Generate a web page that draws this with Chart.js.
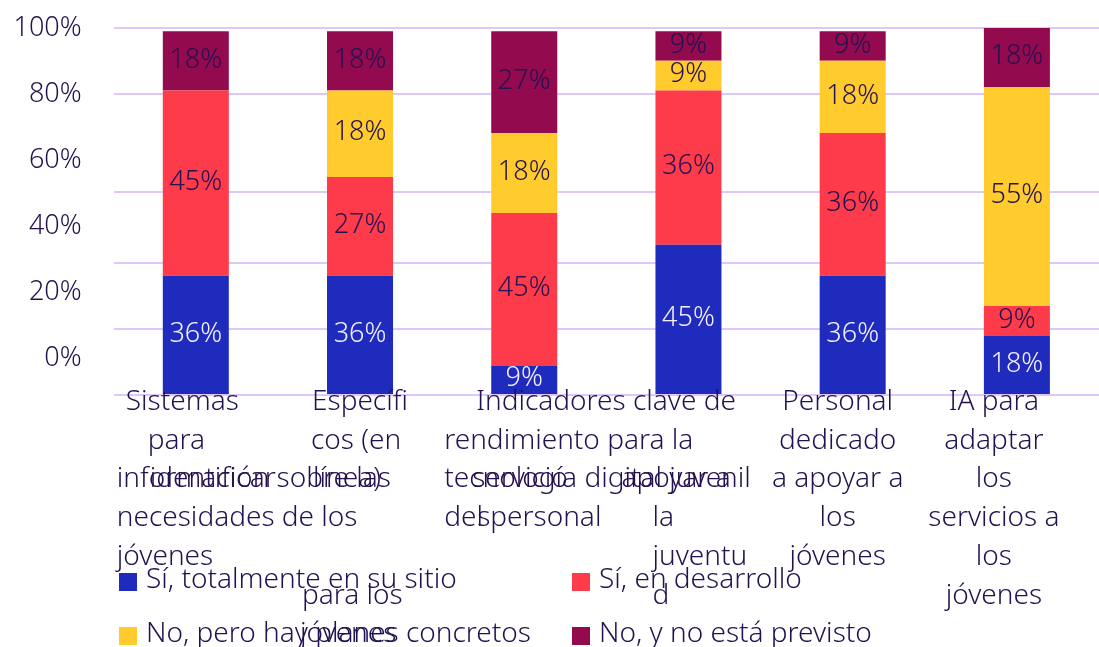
<!DOCTYPE html>
<html>
<head>
<meta charset="utf-8">
<title>Estado de las herramientas digitales</title>
<script src="https://cdn.jsdelivr.net/npm/chart.js@4.4.1/dist/chart.umd.min.js"></script>
<style>
    html, body { margin: 0; padding: 0; background: #ffffff; }
    #wrap { position: relative; width: 1099px; height: 647px; overflow: hidden; }
    #legend { position: absolute; left: 119px; top: 559px; font: 300 28px "Noto Sans", sans-serif; color: #24114f; }
    .legend-item { position: absolute; white-space: nowrap; line-height: 36px; display: flex; align-items: flex-start; }
    .legend-box { width: 18px; height: 18px; margin-top: 14px; margin-right: 9px; flex: none; }
</style>
</head>
<body>
<div id="wrap">
    <canvas id="toolsChart" width="1099" height="647"></canvas>
    <div id="legend"></div>
</div>
<script>
// categories (one bar each)
const categories = [
    'Sistemas para identificar información sobre las necesidades de los jóvenes',
    'Específicos (en línea) para los jóvenes',
    'Indicadores clave de rendimiento para la tecnología digital juvenil del personal de servicios',
    'Tecnología para apoyar a la juventud',
    'Personal dedicado a apoyar a los jóvenes',
    'IA para adaptar los servicios a los jóvenes'
];

// answer shares in %, bottom to top
const seriesNames = ['Sí, totalmente en su sitio', 'Sí, en desarrollo', 'No, pero hay planes concretos', 'No, y no está previsto'];
const fullyInPlace = [36, 36, 9, 45, 36, 18];
const inProgress = [45, 27, 45, 36, 36, 9];
const plannedOnly = [0, 18, 18, 9, 18, 55];
const notPlanned = [18, 18, 27, 9, 9, 18];

// y axis ticks
const tickValues = [0, 20, 40, 60, 80, 100];
const tickLabels = ['0%', '20%', '40%', '60%', '80%', '100%'];

const textColor = '#24114f';
const fontFamily = '"Noto Sans", sans-serif';

// where each 20% grid step sits along the axis height (0 = bottom, 1 = top)
const gridStops = [0, 0.179, 0.361, 0.554, 0.821, 1];

// linear scale with uneven spacing between grid steps
class WarpedScale extends Chart.LinearScale {
    static id = 'warped';

    getPixelForValue(value) {
        if (value === null || value === undefined) return NaN;
        const n = gridStops.length - 1;
        const t = (value - this.min) / (this.max - this.min) * n;
        const i = Math.min(n - 1, Math.max(0, Math.floor(t)));
        return this.getPixelForDecimal(gridStops[i] + (gridStops[i + 1] - gridStops[i]) * (t - i));
    }

    getValueForPixel(pixel) {
        const d = this.getDecimalForPixel(pixel);
        const n = gridStops.length - 1;
        let i = 0;
        while (i < n - 1 && d > gridStops[i + 1]) i++;
        const t = i + (d - gridStops[i]) / (gridStops[i + 1] - gridStops[i]);
        return this.min + t / n * (this.max - this.min);
    }
}
Chart.register(WarpedScale);

// wrapped category text: [line, x offset from bar centre, text, 'c' = centred]
const labelRuns = [
    [[0, -70, 'Sistemas'], [1, -48, 'para'], [2, -46, 'identificar'], [2, -79, 'información sobre las'], [3, -79, 'necesidades de los'], [4, -79, 'jóvenes']],
    [[0, -48, 'Específi'], [1, -49, 'cos (en'], [2, -47, 'línea)'], [5, -58, 'para los'], [6, -60, 'jóvenes']],
    [[0, -48, 'Indicadores clave de'], [1, -80, 'rendimiento para la'], [2, -80, 'tecnología digital juvenil'], [2, -52, 'servicio'], [3, -80, 'del personal'], [3, -47, 's']],
    [[2, -67, 'apoyar a'], [3, -36, 'la'], [4, -36, 'juventu'], [5, -36, 'd']],
    [[0, -15, 'Personal', 'c'], [1, -15, 'dedicado', 'c'], [2, -15, 'a apoyar a', 'c'], [3, -15, 'los', 'c'], [4, -15, 'jóvenes', 'c']],
    [[0, -23, 'IA para', 'c'], [1, -23, 'adaptar', 'c'], [2, -23, 'los', 'c'], [3, -23, 'servicios a', 'c'], [4, -23, 'los', 'c'], [5, -23, 'jóvenes', 'c']]
];

// draws the wrapped category names under the bars
const categoryText = {
    id: 'categoryText',
    afterDraw(chart) {
        const ctx = chart.ctx;
        const xScale = chart.scales.x;
        const top = chart.chartArea.bottom + 15;
        ctx.save();
        ctx.font = '300 28px ' + fontFamily;
        ctx.fillStyle = textColor;
        ctx.textBaseline = 'alphabetic';
        labelRuns.forEach((runs, i) => {
            const cx = xScale.getPixelForValue(i);
            runs.forEach(([line, dx, text, align]) => {
                ctx.textAlign = align === 'c' ? 'center' : 'left';
                ctx.fillText(text, cx + dx, top + line * 38.7);
            });
        });
        ctx.restore();
    }
};

// percentage written in the middle of each segment
const segmentLabels = {
    id: 'segmentLabels',
    afterDatasetsDraw(chart) {
        const ctx = chart.ctx;
        ctx.save();
        ctx.font = '300 27px ' + fontFamily;
        ctx.textAlign = 'center';
        ctx.textBaseline = 'middle';
        chart.data.datasets.forEach((ds, di) => {
            chart.getDatasetMeta(di).data.forEach((bar, i) => {
                const v = ds.data[i];
                if (!v) return;
                ctx.fillStyle = ds.labelColor;
                ctx.fillText(v + '%', bar.x, (bar.y + bar.base) / 2 - 1);
            });
        });
        ctx.restore();
    }
};

const ctx = document.getElementById('toolsChart').getContext('2d');
const chart = new Chart(ctx, {
    type: 'bar',
    data: {
        labels: categories,
        datasets: [
            { label: seriesNames[0], data: fullyInPlace, backgroundColor: '#1f2bbd', labelColor: '#f4f0ff' },
            { label: seriesNames[1], data: inProgress, backgroundColor: '#fd3b4a', labelColor: textColor },
            { label: seriesNames[2], data: plannedOnly, backgroundColor: '#ffcb2d', labelColor: textColor },
            { label: seriesNames[3], data: notPlanned, backgroundColor: '#930a4f', labelColor: textColor }
        ]
    },
    options: {
        responsive: false,
        animation: false,
        barPercentage: 0.402,
        categoryPercentage: 1,
        layout: { padding: { top: 28, bottom: 252, left: 0, right: -2 } },
        plugins: {
            legend: { display: false },
            tooltip: { enabled: false }
        },
        scales: {
            x: {
                stacked: true,
                display: false
            },
            // bars and grid lines; its width is the gap left of the plot
            y: {
                type: 'warped',
                stacked: true,
                min: 0,
                max: 100,
                position: 'left',
                weight: 0,
                afterBuildTicks: (axis) => { axis.ticks = tickValues.map(v => ({ value: v })); },
                afterFit: (axis) => { axis.width = 32; },
                ticks: { display: false },
                grid: { color: '#dcc8fb', lineWidth: 2, drawTicks: false },
                border: { display: false }
            },
            // percentage labels, evenly spaced
            yl: {
                type: 'linear',
                position: 'left',
                weight: 1,
                min: -11,
                max: 100,
                afterBuildTicks: (axis) => { axis.ticks = tickValues.map(v => ({ value: v })); },
                afterFit: (axis) => { axis.width = 81.7; },
                ticks: {
                    padding: 0,
                    color: textColor,
                    font: { family: fontFamily, size: 27, weight: '300' },
                    callback: (v, i) => tickLabels[i]
                },
                grid: { display: false, drawTicks: false },
                border: { display: false }
            }
        }
    },
    plugins: [segmentLabels, categoryText]
});

// legend in two columns
const legend = document.getElementById('legend');
chart.data.datasets.forEach((ds, i) => {
    const item = document.createElement('div');
    item.className = 'legend-item';
    item.style.left = (i % 2) * 453 + 'px';
    item.style.top = Math.floor(i / 2) * 54 + 'px';
    const box = document.createElement('span');
    box.className = 'legend-box';
    box.style.background = ds.backgroundColor;
    const text = document.createElement('span');
    text.textContent = ds.label;
    item.appendChild(box);
    item.appendChild(text);
    legend.appendChild(item);
});
</script>
</body>
</html>
